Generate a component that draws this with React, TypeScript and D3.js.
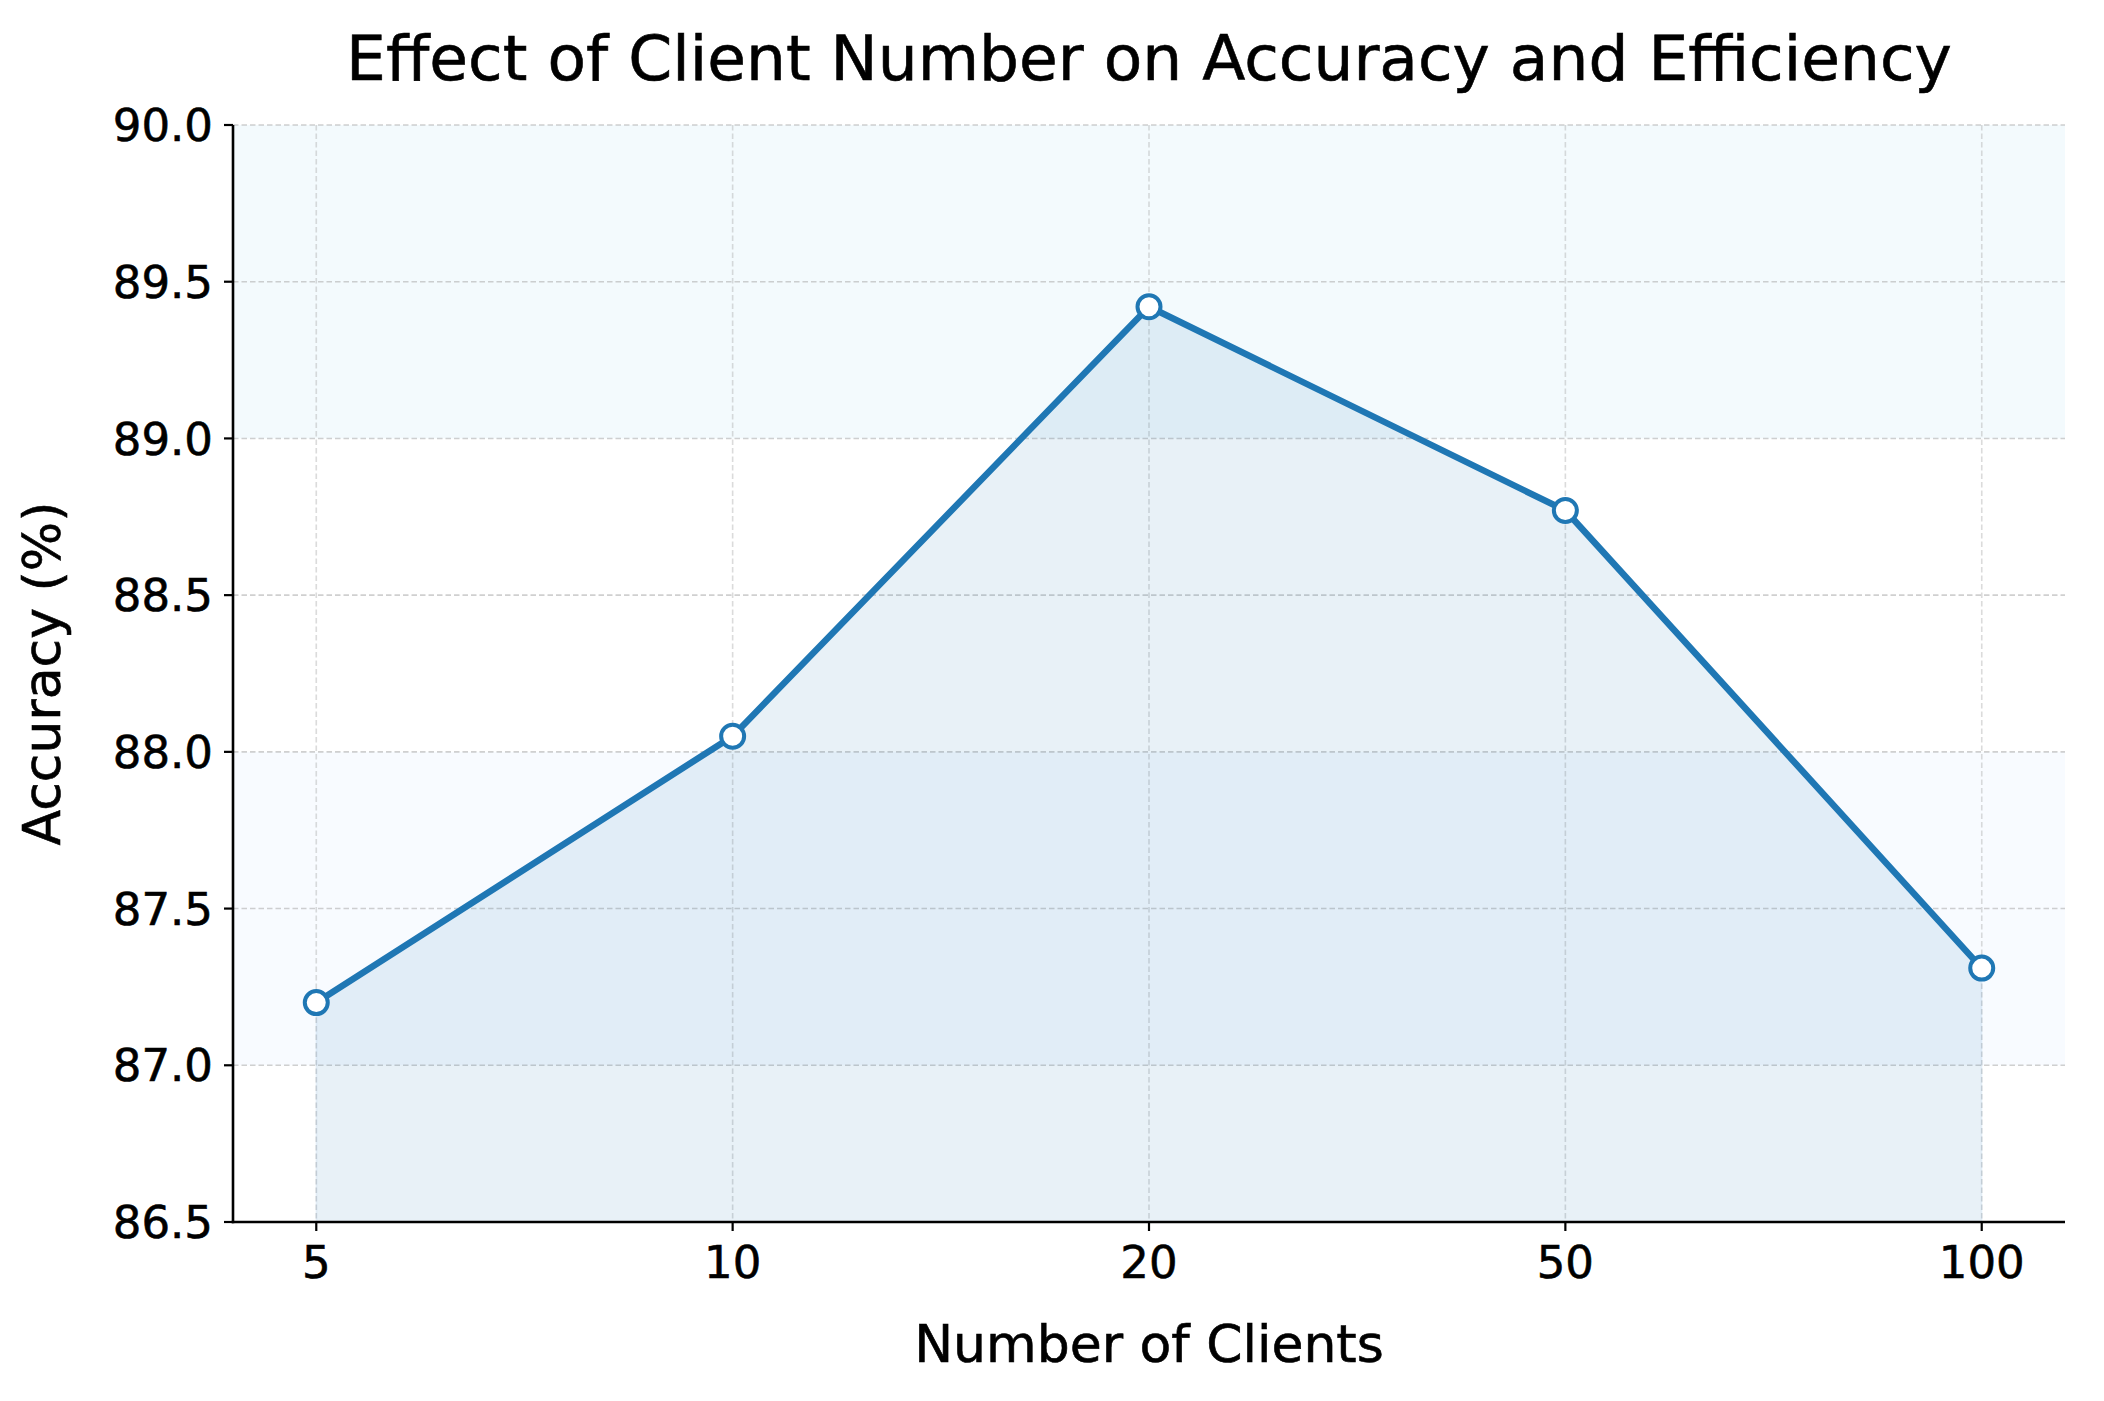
import React from "react";
import * as d3 from "d3";

const clientCounts: string[] = ["5", "10", "20", "50", "100"];
const accuracyValues: number[] = [87.2, 88.05, 89.42, 88.77, 87.31];
const yTicks: number[] = [86.5, 87.0, 87.5, 88.0, 88.5, 89.0, 89.5, 90.0];
const bands: { from: number; to: number; color: string }[] = [
  { from: 89, to: 90, color: "rgb(243,250,253)" },
  { from: 87, to: 88, color: "rgb(248,251,255)" },
];

const W = 2104;
const H = 1401;
const M = { left: 233, right: 2065, top: 125, bottom: 1222 };
const FONT = "'DejaVu Sans', sans-serif";

export default function App() {
  const idx = clientCounts.map((_, i) => i);
  const x = d3.scaleLinear().domain([-0.2, clientCounts.length - 1 + 0.2]).range([M.left, M.right]);
  const y = d3.scaleLinear().domain([86.5, 90]).range([M.bottom, M.top]);

  const lineGen = d3
    .line<number>()
    .x((i) => x(i))
    .y((i) => y(accuracyValues[i]));
  const areaGen = d3
    .area<number>()
    .x((i) => x(i))
    .y0(() => y(86.5))
    .y1((i) => y(accuracyValues[i]));

  const textStroke = { stroke: "#000", strokeWidth: 0.6 };

  return (
    <svg
      width={W}
      height={H}
      viewBox={`0 0 ${W} ${H}`}
      style={{ position: "absolute", left: 0, top: 0, display: "block", background: "#fff" }}
      fontFamily={FONT}
    >
      <rect x={0} y={0} width={W} height={H} fill="#fff" />
      {bands.map((b, i) => (
        <rect
          key={"band" + i}
          x={M.left}
          y={y(b.to)}
          width={M.right - M.left}
          height={y(b.from) - y(b.to)}
          fill={b.color}
        />
      ))}
      {yTicks.slice(1).map((t) => (
        <line
          key={"gy" + t}
          x1={M.left}
          x2={M.right}
          y1={y(t)}
          y2={y(t)}
          stroke="#b0b0b0"
          strokeOpacity={0.6}
          strokeWidth={1.6}
          strokeDasharray="5.5,3"
        />
      ))}
      {idx.map((i) => (
        <line
          key={"gx" + i}
          x1={x(i)}
          x2={x(i)}
          y1={M.top}
          y2={M.bottom}
          stroke="#b0b0b0"
          strokeOpacity={0.45}
          strokeWidth={1.6}
          strokeDasharray="5.5,3"
        />
      ))}
      <path d={areaGen(idx) || ""} fill="#1f77b4" fillOpacity={0.1} stroke="#1f77b4" strokeOpacity={0.06} strokeWidth={2} />
      <path d={lineGen(idx) || ""} fill="none" stroke="#1f77b4" strokeWidth={6.5} strokeLinejoin="round" />
      {idx.map((i) => (
        <circle key={"m" + i} cx={x(i)} cy={y(accuracyValues[i])} r={11.5} fill="#fff" stroke="#1f77b4" strokeWidth={4} />
      ))}
      <line x1={M.left} x2={M.left} y1={M.top} y2={M.bottom + 1.3} stroke="#000" strokeWidth={2.6} />
      <line x1={M.left - 1.3} x2={M.right} y1={M.bottom} y2={M.bottom} stroke="#000" strokeWidth={2.6} />
      {yTicks.map((t) => (
        <g key={"yt" + t}>
          <line x1={M.left - 9} x2={M.left} y1={y(t)} y2={y(t)} stroke="#000" strokeWidth={2.2} />
          <text x={M.left - 20} y={y(t)} dy="0.36em" textAnchor="end" fontSize={45} fill="#000" {...textStroke}>
            {t.toFixed(1)}
          </text>
        </g>
      ))}
      {idx.map((i) => (
        <g key={"xt" + i}>
          <line x1={x(i)} x2={x(i)} y1={M.bottom} y2={M.bottom + 9} stroke="#000" strokeWidth={2.2} />
          <text x={x(i)} y={M.bottom + 56} textAnchor="middle" fontSize={45} fill="#000" {...textStroke}>
            {clientCounts[i]}
          </text>
        </g>
      ))}
      <text x={(M.left + M.right) / 2} y={1362} textAnchor="middle" fontSize={52} fill="#000" {...textStroke}>
        Number of Clients
      </text>
      <text
        transform={`translate(60,${(M.top + M.bottom) / 2}) rotate(-90)`}
        textAnchor="middle"
        fontSize={52}
        fill="#000"
        {...textStroke}
      >
        Accuracy (%)
      </text>
      <text x={(M.left + M.right) / 2} y={80} textAnchor="middle" fontSize={63} fill="#000" {...textStroke}>
        Effect of Client Number on Accuracy and Efficiency
      </text>
    </svg>
  );
}
